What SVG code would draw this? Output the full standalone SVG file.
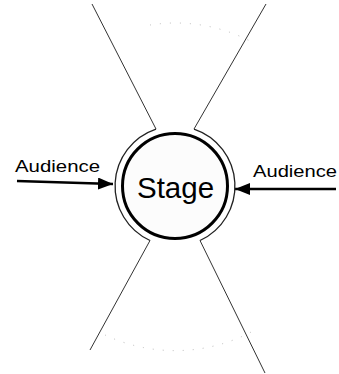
<svg xmlns="http://www.w3.org/2000/svg" width="339" height="374" viewBox="0 0 339 374">
<style>
.diag{stroke:#333;stroke-width:1;fill:none}
.ring{stroke:#222;stroke-width:1.3;fill:none}
.faint{stroke:#bbb;stroke-width:1;fill:none;stroke-dasharray:1 9}
.arrow{stroke:#000;stroke-width:2.4;fill:none}
.lbl{font-family:"Liberation Sans",Arial,sans-serif;font-size:16.5px;fill:#000}
</style>
<defs>
<marker id="ah" markerWidth="16" markerHeight="12" refX="15" refY="6" orient="auto" markerUnits="userSpaceOnUse">
<path d="M0,0 L15,6 L0,12 Z" fill="#000"/>
</marker>
</defs>
<rect width="339" height="374" fill="#fff"/>
<g id="connectors">
<path class="diag" d="M92,4 L156,129"/>
<path class="diag" d="M266,4 L194,129"/>
<path class="diag" d="M150,240.5 L90,350"/>
<path class="diag" d="M200,240.5 L265,373"/>
<path class="faint" d="M150,25 A163,163 0 0 1 250,41"/>
<path class="faint" d="M105,335 A165,165 0 0 0 255,330"/>
<path class="arrow" d="M17,181 L113,184" marker-end="url(#ah)"/>
<path class="arrow" d="M336,189 L235,189" marker-end="url(#ah)"/>
</g>
<g id="stage">
<path class="ring" d="M156,129.1 A60,60 0 0 0 150,240.5"/>
<path class="ring" d="M194,129.1 A60,60 0 0 1 200,240.5"/>
<circle cx="175" cy="186" r="52.5" fill="#fcfcfc" stroke="#000" stroke-width="3"/>
<text x="175.5" y="198" text-anchor="middle" font-family="Liberation Sans,Arial,sans-serif" font-size="29.5" fill="#000">Stage</text>
</g>
<g id="audience-left">
<text class="lbl" x="15" y="172" textLength="85" lengthAdjust="spacingAndGlyphs">Audience</text>
</g>
<g id="audience-right">
<text class="lbl" x="253" y="177" textLength="84" lengthAdjust="spacingAndGlyphs">Audience</text>
</g>
</svg>
